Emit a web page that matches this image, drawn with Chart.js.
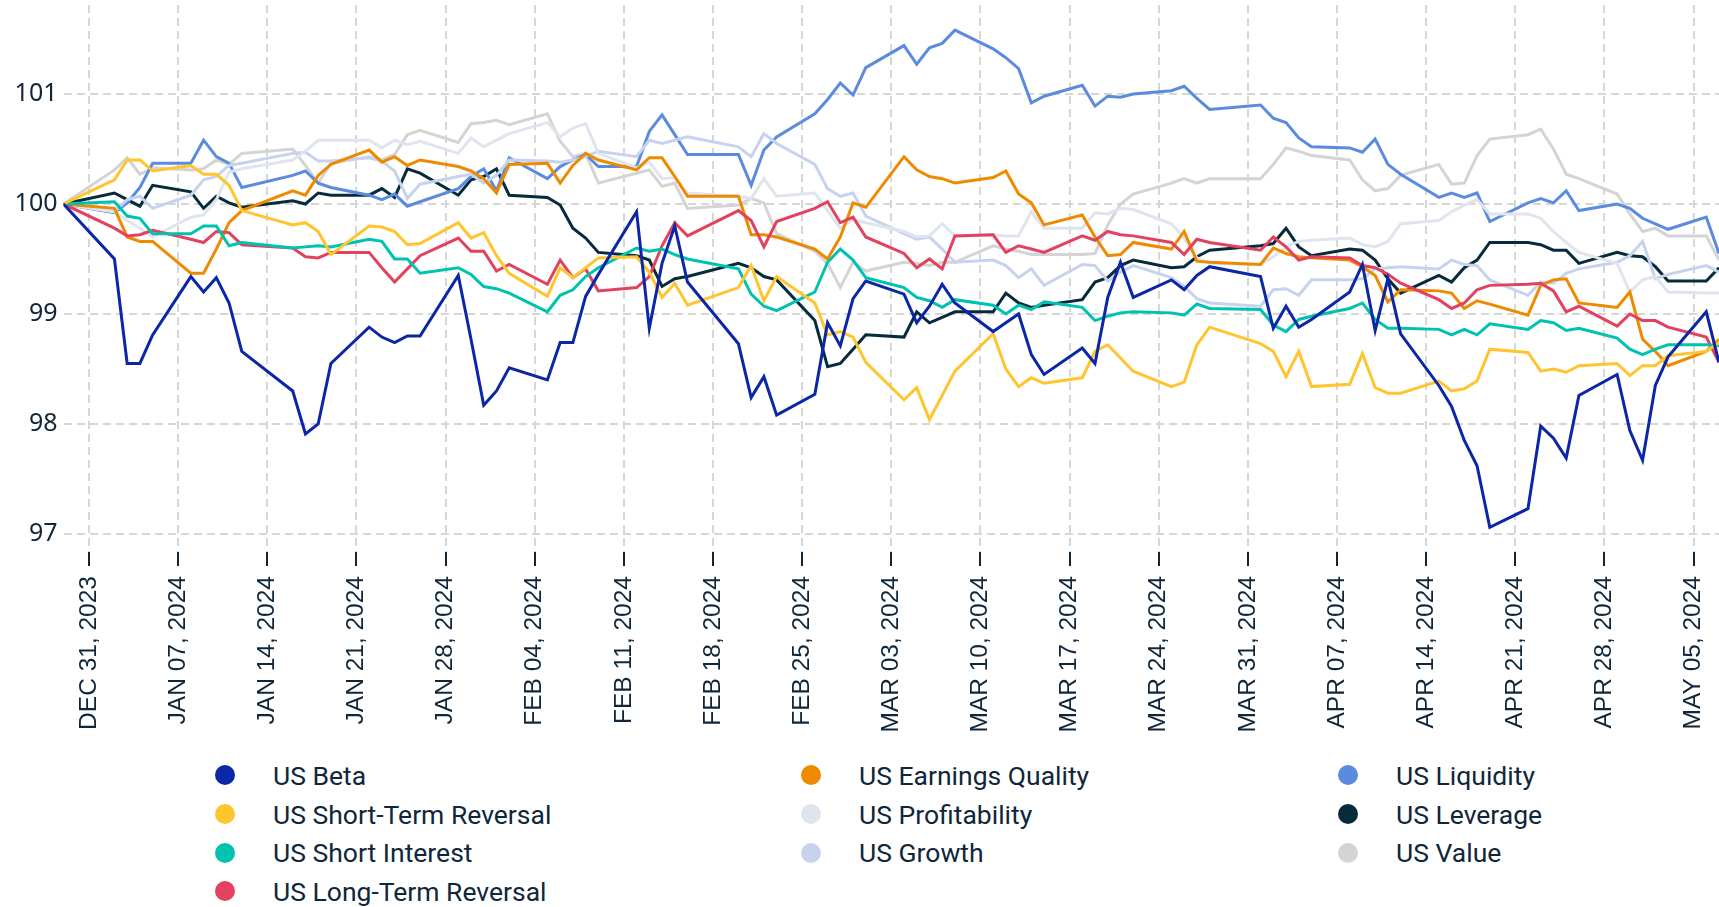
<!DOCTYPE html>
<html>
<head>
<meta charset="utf-8">
<script src="https://cdn.jsdelivr.net/npm/chart.js@4.4.1/dist/chart.umd.min.js"></script>
<style>
  html, body { margin:0; padding:0; background:#fff; }
  #wrap { position:relative; width:1719px; height:907px; overflow:hidden; }
  #chartBox { position:absolute; left:0; top:0; width:1719px; height:752px; }
  #legend { position:absolute; left:0; top:756px; width:1719px; height:151px;
            font-family: Roboto, "Noto Sans", sans-serif; font-size:26.5px; color:#10263a; }
  .col { position:absolute; top:0; }
  .item { height:38.7px; display:flex; align-items:center; white-space:nowrap; }
  .dot { width:20px; height:20px; border-radius:50%; margin-right:38px; flex:none; }
</style>
</head>
<body>
<div id="wrap">
  <div id="chartBox"><canvas id="chart"></canvas></div>
  <div id="legend"></div>
</div>
<script>
// ---------- DATA ----------
const DATES = [
  "2023-12-29",
  "2024-01-02","2024-01-03","2024-01-04","2024-01-05",
  "2024-01-08","2024-01-09","2024-01-10","2024-01-11","2024-01-12",
  "2024-01-16","2024-01-17","2024-01-18","2024-01-19",
  "2024-01-22","2024-01-23","2024-01-24","2024-01-25","2024-01-26",
  "2024-01-29","2024-01-30","2024-01-31","2024-02-01","2024-02-02",
  "2024-02-05","2024-02-06","2024-02-07","2024-02-08","2024-02-09",
  "2024-02-12","2024-02-13","2024-02-14","2024-02-15","2024-02-16",
  "2024-02-20","2024-02-21","2024-02-22","2024-02-23",
  "2024-02-26","2024-02-27","2024-02-28","2024-02-29","2024-03-01",
  "2024-03-04","2024-03-05","2024-03-06","2024-03-07","2024-03-08",
  "2024-03-11","2024-03-12","2024-03-13","2024-03-14","2024-03-15",
  "2024-03-18","2024-03-19","2024-03-20","2024-03-21","2024-03-22",
  "2024-03-25","2024-03-26","2024-03-27","2024-03-28",
  "2024-04-01","2024-04-02","2024-04-03","2024-04-04","2024-04-05",
  "2024-04-08","2024-04-09","2024-04-10","2024-04-11","2024-04-12",
  "2024-04-15","2024-04-16","2024-04-17","2024-04-18","2024-04-19",
  "2024-04-22","2024-04-23","2024-04-24","2024-04-25","2024-04-26",
  "2024-04-29","2024-04-30","2024-05-01","2024-05-02","2024-05-03",
  "2024-05-06","2024-05-07"
];

const TICK_DATES = ["2023-12-31","2024-01-07","2024-01-14","2024-01-21","2024-01-28","2024-02-04",
  "2024-02-11","2024-02-18","2024-02-25","2024-03-03","2024-03-10","2024-03-17","2024-03-24",
  "2024-03-31","2024-04-07","2024-04-14","2024-04-21","2024-04-28","2024-05-05"];
const TICK_LABELS = ["DEC 31, 2023","JAN 07, 2024","JAN 14, 2024","JAN 21, 2024","JAN 28, 2024","FEB 04, 2024",
  "FEB 11, 2024","FEB 18, 2024","FEB 25, 2024","MAR 03, 2024","MAR 10, 2024","MAR 17, 2024","MAR 24, 2024",
  "MAR 31, 2024","APR 07, 2024","APR 14, 2024","APR 21, 2024","APR 28, 2024","MAY 05, 2024"];

const Y_TICKS = [97, 98, 99, 100, 101];

const beta = [100,
  99.50, 98.55, 98.55, 98.81,
  99.34, 99.20, 99.33, 99.10, 98.66,
  98.30, 97.91, 98.00, 98.55,
  98.88, 98.79, 98.74, 98.80, 98.80,
  99.35, 98.77, 98.17, 98.30, 98.51,
  98.40, 98.74, 98.74, 99.16, 99.36,
  99.93, 98.87, 99.46, 99.80, 99.29,
  98.73, 98.24, 98.43, 98.08,
  98.27, 98.92, 98.71, 99.14, 99.30,
  99.18, 98.92, 99.07, 99.27, 99.10,
  98.84, 98.92, 99.00, 98.63, 98.45,
  98.69, 98.55, 99.15, 99.47, 99.15,
  99.31, 99.22, 99.35, 99.43,
  99.34, 98.87, 99.07, 98.88, 98.95,
  99.20, 99.45, 98.85, 99.32, 98.82,
  98.35, 98.16, 97.85, 97.62, 97.06,
  97.23, 97.98, 97.87, 97.69, 98.26,
  98.45, 97.94, 97.67, 98.35, 98.61,
  99.02, 98.56];

const shortTermReversal = [100,
  100.22, 100.40, 100.40, 100.30,
  100.35, 100.27, 100.27, 100.17, 99.94,
  99.81, 99.83, 99.75, 99.54,
  99.80, 99.79, 99.75, 99.63, 99.64,
  99.83, 99.69, 99.74, 99.53, 99.37,
  99.16, 99.42, 99.33, 99.42, 99.51,
  99.52, 99.38, 99.15, 99.28, 99.08,
  99.24, 99.44, 99.12, 99.34,
  99.10, 98.81, 98.84, 98.79, 98.56,
  98.22, 98.33, 98.04, 98.26, 98.48,
  98.82, 98.50, 98.34, 98.42, 98.37,
  98.42, 98.66, 98.72, 98.60, 98.48,
  98.34, 98.38, 98.72, 98.88,
  98.73, 98.66, 98.43, 98.66, 98.34,
  98.36, 98.64, 98.33, 98.28, 98.28,
  98.39, 98.30, 98.32, 98.39, 98.68,
  98.65, 98.48, 98.50, 98.47, 98.53,
  98.55, 98.44, 98.53, 98.53, 98.62,
  98.66, 98.74];

const shortInterest = [100,
  100.02, 99.89, 99.87, 99.73,
  99.73, 99.80, 99.80, 99.62, 99.65,
  99.60, 99.61, 99.62, 99.61,
  99.68, 99.66, 99.50, 99.50, 99.37,
  99.42, 99.36, 99.25, 99.23, 99.19,
  99.02, 99.17, 99.22, 99.34, 99.42,
  99.60, 99.57, 99.59, 99.54, 99.50,
  99.41, 99.18, 99.07, 99.03,
  99.20, 99.47, 99.59, 99.49, 99.33,
  99.24, 99.15, 99.12, 99.06, 99.13,
  99.08, 99.00, 99.08, 99.04, 99.11,
  99.06, 98.94, 98.98, 99.01, 99.02,
  99.01, 98.99, 99.09, 99.05,
  99.04, 98.90, 98.84, 98.95, 98.98,
  99.05, 99.10, 98.95, 98.87, 98.87,
  98.86, 98.81, 98.86, 98.81, 98.91,
  98.86, 98.94, 98.92, 98.85, 98.87,
  98.78, 98.68, 98.63, 98.68, 98.72,
  98.72, 98.71];

const longTermReversal = [100,
  99.78, 99.71, 99.72, 99.76,
  99.68, 99.65, 99.75, 99.74, 99.63,
  99.60, 99.52, 99.51, 99.56,
  99.56, 99.42, 99.29, 99.41, 99.53,
  99.69, 99.57, 99.57, 99.39, 99.45,
  99.27, 99.49, 99.33, 99.41, 99.21,
  99.24, 99.34, 99.62, 99.83, 99.71,
  99.94, 99.85, 99.61, 99.84,
  99.96, 100.02, 99.83, 99.88, 99.70,
  99.55, 99.42, 99.50, 99.41, 99.71,
  99.72, 99.56, 99.62, 99.59, 99.56,
  99.71, 99.67, 99.75, 99.72, 99.71,
  99.65, 99.54, 99.68, 99.65,
  99.58, 99.70, 99.61, 99.49, 99.52,
  99.51, 99.44, 99.42, 99.36, 99.28,
  99.13, 99.05, 99.10, 99.22, 99.26,
  99.27, 99.28, 99.21, 99.02, 99.07,
  98.89, 99.00, 98.94, 98.94, 98.88,
  98.79, 98.56];

const earningsQuality = [100,
  99.96, 99.70, 99.66, 99.66,
  99.37, 99.37, 99.59, 99.83, 99.94,
  100.12, 100.08, 100.26, 100.36,
  100.49, 100.38, 100.43, 100.35, 100.40,
  100.34, 100.30, 100.23, 100.10, 100.36,
  100.37, 100.19, 100.35, 100.46, 100.40,
  100.31, 100.42, 100.42, 100.25, 100.07,
  100.07, 99.72, 99.72, 99.70,
  99.59, 99.50, 99.70, 100.01, 99.97,
  100.43, 100.31, 100.25, 100.23, 100.19,
  100.24, 100.30, 100.09, 100.01, 99.81,
  99.90, 99.70, 99.53, 99.54, 99.65,
  99.59, 99.75, 99.48, 99.47,
  99.45, 99.60, 99.55, 99.52, 99.51,
  99.49, 99.43, 99.35, 99.11, 99.22,
  99.21, 99.19, 99.05, 99.12, 99.09,
  98.99, 99.26, 99.31, 99.32, 99.10,
  99.06, 99.20, 98.77, 98.66, 98.53,
  98.66, 98.77];

const profitability = [100,
  99.93, 99.85, 99.78, 99.70,
  99.88, 99.90, 100.04, 100.29, 100.32,
  100.40, 100.48, 100.58, 100.58,
  100.58, 100.51, 100.58, 100.54, 100.57,
  100.46, 100.60, 100.52, 100.58, 100.64,
  100.74, 100.61, 100.69, 100.73, 100.46,
  100.33, 100.38, 100.23, 100.24, 100.10,
  100.07, 100.05, 100.23, 100.07,
  100.10, 99.94, 99.78, 99.86, 99.83,
  99.75, 99.70, 99.71, 99.82, 99.71,
  99.72, 99.71, 99.71, 99.93, 99.78,
  99.78, 99.92, 99.91, 99.96, 99.95,
  99.82, 99.69, 99.51, 99.46,
  99.45, 99.52, 99.61, 99.66, 99.67,
  99.69, 99.63, 99.61, 99.66, 99.82,
  99.85, 99.93, 99.99, 100.04, 99.91,
  99.91, 99.87, 99.75, 99.65, 99.56,
  99.46, 99.20, 99.31, 99.34, 99.20,
  99.19, 99.19];

const growth = [100,
  99.93, 100.04, 100.07, 99.96,
  100.08, 100.22, 100.25, 100.35, 100.37,
  100.46, 100.47, 100.39, 100.39,
  100.42, 100.39, 100.30, 100.05, 100.18,
  100.25, 100.27, 100.19, 100.26, 100.40,
  100.39, 100.38, 100.40, 100.43, 100.48,
  100.43, 100.58, 100.55, 100.58, 100.61,
  100.52, 100.43, 100.64, 100.55,
  100.36, 100.14, 100.07, 100.10, 99.89,
  99.73, 99.68, 99.70, 99.59, 99.47,
  99.49, 99.44, 99.33, 99.41, 99.26,
  99.45, 99.44, 99.30, 99.38, 99.44,
  99.33, 99.25, 99.14, 99.10,
  99.07, 99.22, 99.23, 99.17, 99.31,
  99.31, 99.32, 99.41, 99.42, 99.43,
  99.41, 99.49, 99.45, 99.44, 99.31,
  99.17, 99.29, 99.28, 99.37, 99.41,
  99.47, 99.53, 99.66, 99.32, 99.36,
  99.44, 99.38];

const liquidity = [100,
  99.92, 100.01, 100.15, 100.37,
  100.37, 100.58, 100.43, 100.37, 100.15,
  100.26, 100.30, 100.19, 100.15,
  100.08, 100.04, 100.09, 99.98, 100.02,
  100.14, 100.25, 100.32, 100.12, 100.42,
  100.23, 100.34, 100.40, 100.45, 100.34,
  100.34, 100.66, 100.81, 100.63, 100.45,
  100.45, 100.17, 100.49, 100.61,
  100.82, 100.95, 101.10, 100.99, 101.24,
  101.44, 101.27, 101.42, 101.46, 101.58,
  101.41, 101.33, 101.23, 100.92, 100.98,
  101.08, 100.89, 100.98, 100.97, 101.00,
  101.03, 101.07, 100.96, 100.86,
  100.90, 100.78, 100.74, 100.60, 100.52,
  100.51, 100.47, 100.59, 100.36, 100.27,
  100.06, 100.10, 100.06, 100.10, 99.84,
  100.01, 100.05, 100.01, 100.12, 99.94,
  100.00, 99.96, 99.87, 99.82, 99.77,
  99.88, 99.55];

const leverage = [100,
  100.10, 100.04, 99.98, 100.17,
  100.11, 99.96, 100.07, 100.01, 99.97,
  100.03, 100.00, 100.10, 100.08,
  100.08, 100.14, 100.06, 100.32, 100.28,
  100.08, 100.22, 100.25, 100.32, 100.08,
  100.06, 99.99, 99.78, 99.69, 99.56,
  99.53, 99.49, 99.25, 99.32, 99.34,
  99.46, 99.42, 99.34, 99.31,
  98.94, 98.52, 98.55, 98.68, 98.81,
  98.79, 99.02, 98.92, 98.97, 99.02,
  99.02, 99.19, 99.10, 99.06, 99.08,
  99.13, 99.29, 99.33, 99.44, 99.49,
  99.42, 99.43, 99.52, 99.58,
  99.62, 99.64, 99.78, 99.61, 99.53,
  99.59, 99.58, 99.49, 99.32, 99.19,
  99.35, 99.29, 99.42, 99.49, 99.65,
  99.65, 99.63, 99.58, 99.58, 99.46,
  99.56, 99.53, 99.52, 99.43, 99.30,
  99.30, 99.42];

const value = [100,
  100.31, 100.42, 100.27, 100.33,
  100.31, 100.32, 100.40, 100.36, 100.46,
  100.50, 100.35, 100.19, 100.37,
  100.43, 100.40, 100.45, 100.63, 100.67,
  100.56, 100.73, 100.74, 100.76, 100.72,
  100.82, 100.57, 100.43, 100.46, 100.19,
  100.28, 100.31, 100.16, 100.19, 99.96,
  99.99, 100.05, 100.01, 99.73,
  99.57, 99.46, 99.24, 99.47, 99.39,
  99.47, 99.46, 99.44, 99.47, 99.47,
  99.62, 99.59, 99.57, 99.54, 99.54,
  99.54, 99.55, 99.81, 100.00, 100.09,
  100.19, 100.23, 100.19, 100.23,
  100.23, 100.36, 100.51, 100.48, 100.44,
  100.40, 100.22, 100.12, 100.14, 100.26,
  100.36, 100.18, 100.19, 100.44, 100.59,
  100.63, 100.68, 100.50, 100.27, 100.23,
  100.09, 99.91, 99.75, 99.78, 99.71,
  99.71, 99.49];

const SERIES_NAMES = ["US Beta","US Short-Term Reversal","US Short Interest","US Long-Term Reversal",
  "US Earnings Quality","US Profitability","US Growth","US Liquidity","US Leverage","US Value"];
const SERIES_VALUES = [beta, shortTermReversal, shortInterest, longTermReversal,
  earningsQuality, profitability, growth, liquidity, leverage, value];
const SERIES_COLORS = ["#0b27a8","#ffc42e","#00c2b0","#e3425f",
  "#ef8a00","#dfe4ee","#c7d3ee","#5b8bde","#062b3b","#d4d4d4"];

// legend columns (items per column, left edge of each column)
const LEGEND_COL_SIZES = [4, 3, 3];
const LEGEND_COL_LEFT = [215, 801, 1338];

// ---------- HELPERS ----------
const DAY = 86400000;
const T0 = Date.parse(DATES[0] + "T00:00:00Z");
function dayOf(iso) { return (Date.parse(iso + "T00:00:00Z") - T0) / DAY; }

const INK = "#10263a";
const GRID = "#d6d6d6";

// ---------- CHART ----------
const datasets = SERIES_NAMES.map((name, k) => ({
  label: name,
  data: DATES.map((d, i) => ({ x: dayOf(d), y: SERIES_VALUES[k][i] })),
  borderColor: SERIES_COLORS[k],
  backgroundColor: SERIES_COLORS[k],
  borderWidth: 3,
  pointRadius: 0,
  tension: 0,
  fill: false
}));

const chart = new Chart(document.getElementById("chart"), {
  type: "line",
  data: { datasets },
  options: {
    responsive: true,
    maintainAspectRatio: false,
    animation: false,
    layout: { padding: { top: 5, left: 0, right: 0, bottom: 0 } },
    plugins: { legend: { display: false }, tooltip: { enabled: false } },
    scales: {
      x: {
        type: "linear",
        min: 0,
        max: dayOf(DATES[DATES.length - 1]),
        afterBuildTicks: s => { s.ticks = TICK_DATES.map(d => ({ value: dayOf(d) })); },
        afterFit: s => { s.height = 200; s.paddingLeft = 0; s.paddingRight = 0; },
        ticks: {
          autoSkip: false, minRotation: 90, maxRotation: 90, padding: 10,
          color: INK,
          font: { family: "'Liberation Sans', Arial, sans-serif", size: 24.5 },
          callback: (v, i) => TICK_LABELS[i]
        },
        grid: { color: GRID, lineWidth: 2, tickColor: INK, tickLength: 14, tickWidth: 2 },
        border: { display: false, dash: [8, 5] }
      },
      y: {
        min: 96.836,
        max: 101.809,
        afterBuildTicks: s => { s.ticks = Y_TICKS.map(v => ({ value: v })); },
        afterFit: s => { s.width = 63.5; s.paddingTop = 0; s.paddingBottom = 0; },
        ticks: {
          padding: 6, color: INK,
          font: { family: "'Noto Sans', sans-serif", size: 25 }
        },
        grid: { color: GRID, lineWidth: 2, drawTicks: false },
        border: { display: false, dash: [8, 5] }
      }
    }
  }
});

// ---------- LEGEND ----------
const legendEl = document.getElementById("legend");
let idx = 0;
LEGEND_COL_SIZES.forEach((n, c) => {
  const col = document.createElement("div");
  col.className = "col";
  col.style.left = LEGEND_COL_LEFT[c] + "px";
  for (let r = 0; r < n; r++, idx++) {
    const ds = chart.data.datasets[idx];
    const item = document.createElement("div");
    item.className = "item";
    const dot = document.createElement("span");
    dot.className = "dot";
    dot.style.background = ds.borderColor;
    const txt = document.createElement("span");
    txt.textContent = ds.label;
    item.appendChild(dot);
    item.appendChild(txt);
    col.appendChild(item);
  }
  legendEl.appendChild(col);
});
</script>
</body>
</html>
